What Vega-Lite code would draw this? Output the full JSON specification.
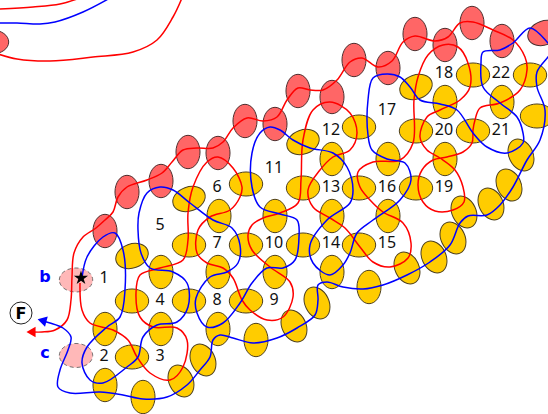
{"$schema":"https://vega.github.io/schema/vega-lite/v6.json","width":548,"height":414,"padding":0,"autosize":"none","background":"white","config":{"view":{"stroke":null}},
"datasets":{
"cells":[
{"x":105,"y":231,"g":"red","a":90},{"x":127,"y":192,"g":"red","a":90},{"x":161,"y":181,"g":"red","a":90},{"x":188,"y":152,"g":"red","a":90},{"x":218,"y":153,"g":"red","a":90},{"x":245,"y":121,"g":"red","a":90},{"x":275,"y":124,"g":"red","a":90},{"x":298,"y":91,"g":"red","a":90},{"x":332,"y":97,"g":"red","a":90},{"x":354,"y":60,"g":"red","a":90},{"x":388,"y":68,"g":"red","a":90},{"x":415,"y":34,"g":"red","a":90},{"x":445,"y":45,"g":"red","a":90},{"x":472,"y":23,"g":"red","a":90},{"x":502,"y":41,"g":"red","a":90},{"x":544,"y":33,"g":"red","a":-20},{"x":-8,"y":42,"g":"red","a":0},
{"x":132,"y":301,"g":"o","a":0},{"x":132,"y":357,"g":"o","a":0},{"x":189,"y":245,"g":"o","a":0},{"x":189,"y":301,"g":"o","a":0},{"x":246,"y":245,"g":"o","a":0},{"x":246,"y":301,"g":"o","a":0},{"x":303,"y":245,"g":"o","a":0},{"x":359,"y":245,"g":"o","a":0},{"x":246,"y":184,"g":"o","a":0},{"x":303,"y":188,"g":"o","a":0},{"x":359,"y":188,"g":"o","a":0},{"x":416,"y":188,"g":"o","a":0},{"x":359,"y":127,"g":"o","a":0},{"x":416,"y":131,"g":"o","a":0},{"x":473,"y":131,"g":"o","a":0},{"x":473,"y":75,"g":"o","a":0},{"x":530,"y":75,"g":"o","a":0},{"x":537,"y":116,"g":"o","a":0},
{"x":105,"y":329,"g":"o","a":90},{"x":105,"y":385,"g":"o","a":90},{"x":143,"y":397,"g":"o","a":90},{"x":161,"y":272,"g":"o","a":90},{"x":161,"y":329,"g":"o","a":90},{"x":219,"y":216,"g":"o","a":90},{"x":218,"y":272,"g":"o","a":90},{"x":218,"y":329,"g":"o","a":90},{"x":256,"y":340,"g":"o","a":90},{"x":275,"y":216,"g":"o","a":90},{"x":275,"y":272,"g":"o","a":90},{"x":332,"y":159,"g":"o","a":90},{"x":332,"y":216,"g":"o","a":90},{"x":332,"y":272,"g":"o","a":90},{"x":388,"y":159,"g":"o","a":90},{"x":388,"y":216,"g":"o","a":90},{"x":369,"y":287,"g":"o","a":90},{"x":445,"y":102,"g":"o","a":90},{"x":445,"y":159,"g":"o","a":90},{"x":502,"y":102,"g":"o","a":90},
{"x":181,"y":381,"g":"o","a":65},{"x":203,"y":360,"g":"o","a":65},{"x":294,"y":326,"g":"o","a":65},{"x":317,"y":303,"g":"o","a":65},{"x":407,"y":268,"g":"o","a":65},{"x":434,"y":257,"g":"o","a":65},{"x":453,"y":238,"g":"o","a":65},{"x":464,"y":212,"g":"o","a":65},{"x":491,"y":204,"g":"o","a":65},{"x":509,"y":185,"g":"o","a":65},{"x":521,"y":155,"g":"o","a":65},
{"x":132,"y":256,"g":"o","a":-20},{"x":189,"y":199,"g":"o","a":-20},{"x":303,"y":142,"g":"o","a":-20},{"x":416,"y":87,"g":"o","a":-20}],
"pale":[{"x":76,"y":280},{"x":76,"y":355.5}],
"paths":[
{"s":"r3","x":0,"y":9},{"s":"r3","x":33,"y":7},{"s":"r3","x":60,"y":4},{"s":"r3","x":80,"y":-2},
{"s":"b2","x":-2,"y":23},{"s":"b2","x":17,"y":23},{"s":"b2","x":40,"y":24},{"s":"b2","x":55,"y":22},{"s":"b2","x":83,"y":12},{"s":"b2","x":110,"y":-2},
{"s":"r2","x":-2,"y":54},{"s":"r2","x":17,"y":59},{"s":"r2","x":50,"y":61},{"s":"r2","x":93,"y":57},{"s":"r2","x":133,"y":52},{"s":"r2","x":157,"y":40},{"s":"r2","x":173,"y":17},{"s":"r2","x":182,"y":-2},
{"s":"r1","x":33,"y":332},{"s":"r1","x":42,"y":332},{"s":"r1","x":55,"y":330},{"s":"r1","x":67,"y":320},{"s":"r1","x":71,"y":300},{"s":"r1","x":72,"y":277},{"s":"r1","x":74,"y":253},{"s":"r1","x":83,"y":237},{"s":"r1","x":96,"y":228},{"s":"r1","x":105,"y":220},{"s":"r1","x":113,"y":212},{"s":"r1","x":118,"y":197},{"s":"r1","x":127,"y":187},{"s":"r1","x":147,"y":180},{"s":"r1","x":162,"y":173},{"s":"r1","x":172,"y":162},{"s":"r1","x":183,"y":150},{"s":"r1","x":197,"y":148},{"s":"r1","x":213,"y":148},{"s":"r1","x":223,"y":142},{"s":"r1","x":233,"y":128},{"s":"r1","x":247,"y":118},{"s":"r1","x":263,"y":121},{"s":"r1","x":277,"y":117},{"s":"r1","x":287,"y":100},{"s":"r1","x":298,"y":88},{"s":"r1","x":310,"y":90},{"s":"r1","x":323,"y":90},{"s":"r1","x":337,"y":80},{"s":"r1","x":350,"y":62},{"s":"r1","x":362,"y":58},{"s":"r1","x":378,"y":67},{"s":"r1","x":392,"y":61},{"s":"r1","x":403,"y":42},{"s":"r1","x":415,"y":36},{"s":"r1","x":435,"y":41},{"s":"r1","x":448,"y":37},{"s":"r1","x":460,"y":23},{"s":"r1","x":473,"y":22},{"s":"r1","x":493,"y":30},{"s":"r1","x":513,"y":40},{"s":"r1","x":525,"y":57},{"s":"r1","x":527,"y":70},{"s":"r1","x":520,"y":90},{"s":"r1","x":500,"y":103},{"s":"r1","x":480,"y":108},{"s":"r1","x":475,"y":120},{"s":"r1","x":473,"y":130},{"s":"r1","x":472,"y":143},{"s":"r1","x":463,"y":152},{"s":"r1","x":447,"y":157},{"s":"r1","x":433,"y":160},{"s":"r1","x":422,"y":170},{"s":"r1","x":418,"y":185},{"s":"r1","x":423,"y":202},{"s":"r1","x":435,"y":211},{"s":"r1","x":453,"y":210},{"s":"r1","x":464,"y":202},{"s":"r1","x":463,"y":187},{"s":"r1","x":455,"y":170},{"s":"r1","x":440,"y":158},{"s":"r1","x":427,"y":150},{"s":"r1","x":420,"y":137},{"s":"r1","x":427,"y":117},{"s":"r1","x":440,"y":110},{"s":"r1","x":460,"y":100},{"s":"r1","x":470,"y":87},{"s":"r1","x":468,"y":63},{"s":"r1","x":458,"y":47},{"s":"r1","x":443,"y":45},{"s":"r1","x":428,"y":55},{"s":"r1","x":418,"y":77},{"s":"r1","x":414,"y":100},{"s":"r1","x":413,"y":143},{"s":"r1","x":400,"y":160},{"s":"r1","x":373,"y":162},{"s":"r1","x":358,"y":172},{"s":"r1","x":360,"y":187},{"s":"r1","x":370,"y":200},{"s":"r1","x":383,"y":212},{"s":"r1","x":403,"y":223},{"s":"r1","x":411,"y":243},{"s":"r1","x":408,"y":258},{"s":"r1","x":390,"y":267},{"s":"r1","x":373,"y":262},{"s":"r1","x":360,"y":247},{"s":"r1","x":345,"y":228},{"s":"r1","x":330,"y":218},{"s":"r1","x":313,"y":207},{"s":"r1","x":308,"y":190},{"s":"r1","x":320,"y":170},{"s":"r1","x":333,"y":157},{"s":"r1","x":350,"y":150},{"s":"r1","x":357,"y":133},{"s":"r1","x":350,"y":113},{"s":"r1","x":330,"y":102},{"s":"r1","x":313,"y":110},{"s":"r1","x":303,"y":140},{"s":"r1","x":301,"y":180},{"s":"r1","x":298,"y":203},{"s":"r1","x":280,"y":213},{"s":"r1","x":263,"y":218},{"s":"r1","x":252,"y":225},{"s":"r1","x":248,"y":235},{"s":"r1","x":252,"y":250},{"s":"r1","x":270,"y":267},{"s":"r1","x":290,"y":282},{"s":"r1","x":293,"y":297},{"s":"r1","x":283,"y":317},{"s":"r1","x":267,"y":320},{"s":"r1","x":250,"y":310},{"s":"r1","x":242,"y":300},{"s":"r1","x":233,"y":278},{"s":"r1","x":223,"y":268},{"s":"r1","x":207,"y":263},{"s":"r1","x":197,"y":253},{"s":"r1","x":198,"y":230},{"s":"r1","x":210,"y":217},{"s":"r1","x":230,"y":210},{"s":"r1","x":240,"y":197},{"s":"r1","x":242,"y":187},{"s":"r1","x":233,"y":168},{"s":"r1","x":218,"y":157},{"s":"r1","x":207,"y":162},{"s":"r1","x":193,"y":187},{"s":"r1","x":188,"y":213},{"s":"r1","x":188,"y":240},{"s":"r1","x":183,"y":260},{"s":"r1","x":160,"y":268},{"s":"r1","x":140,"y":275},{"s":"r1","x":136,"y":293},{"s":"r1","x":140,"y":317},{"s":"r1","x":153,"y":327},{"s":"r1","x":177,"y":328},{"s":"r1","x":187,"y":340},{"s":"r1","x":183,"y":367},{"s":"r1","x":170,"y":380},{"s":"r1","x":150,"y":373},{"s":"r1","x":137,"y":357},{"s":"r1","x":128,"y":340},{"s":"r1","x":113,"y":330},{"s":"r1","x":90,"y":323},{"s":"r1","x":82,"y":310},{"s":"r1","x":80,"y":283},
{"s":"b1","x":42,"y":321},{"s":"b1","x":50,"y":323},{"s":"b1","x":63,"y":328},{"s":"b1","x":71,"y":337},{"s":"b1","x":68,"y":350},{"s":"b1","x":60,"y":370},{"s":"b1","x":58,"y":387},{"s":"b1","x":70,"y":393},{"s":"b1","x":100,"y":392},{"s":"b1","x":123,"y":395},{"s":"b1","x":143,"y":399},{"s":"b1","x":167,"y":397},{"s":"b1","x":187,"y":385},{"s":"b1","x":200,"y":370},{"s":"b1","x":210,"y":357},{"s":"b1","x":213,"y":340},{"s":"b1","x":220,"y":335},{"s":"b1","x":233,"y":338},{"s":"b1","x":253,"y":343},{"s":"b1","x":277,"y":338},{"s":"b1","x":297,"y":328},{"s":"b1","x":315,"y":315},{"s":"b1","x":318,"y":300},{"s":"b1","x":318,"y":285},{"s":"b1","x":327,"y":282},{"s":"b1","x":343,"y":287},{"s":"b1","x":363,"y":289},{"s":"b1","x":383,"y":285},{"s":"b1","x":407,"y":275},{"s":"b1","x":430,"y":262},{"s":"b1","x":450,"y":245},{"s":"b1","x":460,"y":223},{"s":"b1","x":468,"y":216},{"s":"b1","x":487,"y":215},{"s":"b1","x":500,"y":205},{"s":"b1","x":513,"y":187},{"s":"b1","x":527,"y":160},{"s":"b1","x":540,"y":140},{"s":"b1","x":545,"y":110},{"s":"b1","x":537,"y":87},{"s":"b1","x":537,"y":72},{"s":"b1","x":548,"y":57},{"s":"b1","x":553,"y":50},{"s":"b1","x":548,"y":43},{"s":"b1","x":530,"y":28},{"s":"b1","x":513,"y":43},{"s":"b1","x":500,"y":50},{"s":"b1","x":483,"y":52},{"s":"b1","x":481,"y":63},{"s":"b1","x":483,"y":87},{"s":"b1","x":500,"y":103},{"s":"b1","x":517,"y":117},{"s":"b1","x":523,"y":133},{"s":"b1","x":523,"y":143},{"s":"b1","x":507,"y":153},{"s":"b1","x":487,"y":147},{"s":"b1","x":473,"y":133},{"s":"b1","x":457,"y":110},{"s":"b1","x":440,"y":104},{"s":"b1","x":420,"y":100},{"s":"b1","x":410,"y":87},{"s":"b1","x":400,"y":77},{"s":"b1","x":387,"y":74},{"s":"b1","x":373,"y":78},{"s":"b1","x":368,"y":100},{"s":"b1","x":368,"y":135},{"s":"b1","x":372,"y":150},{"s":"b1","x":387,"y":159},{"s":"b1","x":405,"y":163},{"s":"b1","x":411,"y":180},{"s":"b1","x":400,"y":200},{"s":"b1","x":373,"y":220},{"s":"b1","x":357,"y":233},{"s":"b1","x":350,"y":253},{"s":"b1","x":343,"y":265},{"s":"b1","x":330,"y":275},{"s":"b1","x":313,"y":263},{"s":"b1","x":310,"y":245},{"s":"b1","x":327,"y":220},{"s":"b1","x":350,"y":203},{"s":"b1","x":353,"y":190},{"s":"b1","x":347,"y":167},{"s":"b1","x":333,"y":153},{"s":"b1","x":310,"y":148},{"s":"b1","x":293,"y":140},{"s":"b1","x":280,"y":130},{"s":"b1","x":270,"y":127},{"s":"b1","x":260,"y":133},{"s":"b1","x":252,"y":153},{"s":"b1","x":252,"y":187},{"s":"b1","x":260,"y":207},{"s":"b1","x":280,"y":214},{"s":"b1","x":297,"y":220},{"s":"b1","x":299,"y":237},{"s":"b1","x":295,"y":260},{"s":"b1","x":283,"y":268},{"s":"b1","x":267,"y":268},{"s":"b1","x":252,"y":283},{"s":"b1","x":240,"y":303},{"s":"b1","x":223,"y":323},{"s":"b1","x":207,"y":327},{"s":"b1","x":197,"y":313},{"s":"b1","x":196,"y":298},{"s":"b1","x":210,"y":277},{"s":"b1","x":227,"y":272},{"s":"b1","x":238,"y":263},{"s":"b1","x":240,"y":245},{"s":"b1","x":232,"y":228},{"s":"b1","x":213,"y":220},{"s":"b1","x":190,"y":203},{"s":"b1","x":173,"y":190},{"s":"b1","x":160,"y":187},{"s":"b1","x":147,"y":193},{"s":"b1","x":139,"y":213},{"s":"b1","x":138,"y":230},{"s":"b1","x":141,"y":253},{"s":"b1","x":150,"y":268},{"s":"b1","x":173,"y":272},{"s":"b1","x":187,"y":283},{"s":"b1","x":188,"y":307},{"s":"b1","x":177,"y":322},{"s":"b1","x":157,"y":325},{"s":"b1","x":143,"y":337},{"s":"b1","x":138,"y":357},{"s":"b1","x":127,"y":367},{"s":"b1","x":103,"y":383},{"s":"b1","x":90,"y":380},{"s":"b1","x":82,"y":363},{"s":"b1","x":87,"y":347},{"s":"b1","x":107,"y":327},{"s":"b1","x":120,"y":317},{"s":"b1","x":125,"y":290},{"s":"b1","x":123,"y":250},{"s":"b1","x":115,"y":233},{"s":"b1","x":103,"y":237},{"s":"b1","x":87,"y":257},{"s":"b1","x":82,"y":278}],
"nums":[{"x":104,"y":278,"t":"1"},{"x":104,"y":356,"t":"2"},{"x":160,"y":356,"t":"3"},{"x":160,"y":300,"t":"4"},{"x":160,"y":225,"t":"5"},{"x":217,"y":187,"t":"6"},{"x":217,"y":243,"t":"7"},{"x":217,"y":300,"t":"8"},{"x":274,"y":300,"t":"9"},{"x":274,"y":243,"t":"10"},{"x":274,"y":168,"t":"11"},{"x":331,"y":130,"t":"12"},{"x":331,"y":187,"t":"13"},{"x":331,"y":243,"t":"14"},{"x":387,"y":243,"t":"15"},{"x":387,"y":187,"t":"16"},{"x":387,"y":110,"t":"17"},{"x":444,"y":73,"t":"18"},{"x":444,"y":187,"t":"19"},{"x":444,"y":130,"t":"20"},{"x":501,"y":130,"t":"21"},{"x":501,"y":73,"t":"22"}]
},
"encoding":{"x":{"field":"x","type":"quantitative","axis":null,"scale":{"domain":[0,548],"nice":false,"zero":false}},"y":{"field":"y","type":"quantitative","axis":null,"scale":{"domain":[414,0],"nice":false,"zero":false}}},
"layer":[
{"data":{"name":"cells"},"transform":[{"filter":"datum.g==='red'"}],"mark":{"type":"point","filled":true,"clip":true,"shape":"M-1,0A1,0.72 0 1,1 1,0A1,0.72 0 1,1 -1,0Z","size":1115,"fill":"#ff6666","stroke":"#4d3030","strokeWidth":1,"opacity":1},
"encoding":{"angle":{"field":"a","type":"quantitative","scale":null}}},
{"data":{"name":"cells"},"transform":[{"filter":"datum.g==='o'"}],"mark":{"type":"point","filled":true,"clip":true,"shape":"M-1,0A1,0.72 0 1,1 1,0A1,0.72 0 1,1 -1,0Z","size":1115,"fill":"#ffcc00","stroke":"#4d4020","strokeWidth":1,"opacity":1},
"encoding":{"angle":{"field":"a","type":"quantitative","scale":null}}},
{"data":{"name":"pale"},"mark":{"type":"point","filled":true,"shape":"M-1,0A1,0.72 0 1,1 1,0A1,0.72 0 1,1 -1,0Z","size":1115,"fill":"#ffb8b8","stroke":"#555555","strokeWidth":0.8,"strokeDash":[4,3],"opacity":1}},
{"data":{"name":"paths"},"transform":[{"window":[{"op":"row_number","as":"i"}]},{"filter":"datum.s[0]==='r'"}],"mark":{"type":"line","interpolate":"catmull-rom","strokeWidth":1.5,"clip":true,"stroke":"#ff0000"},
"encoding":{"detail":{"field":"s"},"order":{"field":"i","type":"quantitative"}}},
{"data":{"name":"paths"},"transform":[{"window":[{"op":"row_number","as":"i"}]},{"filter":"datum.s[0]==='b'"}],"mark":{"type":"line","interpolate":"catmull-rom","strokeWidth":1.5,"clip":true,"stroke":"#0000ff"},
"encoding":{"detail":{"field":"s"},"order":{"field":"i","type":"quantitative"}}},
{"data":{"values":[{"x":31,"y":332}]},"mark":{"type":"point","shape":"triangle-left","filled":true,"size":110,"color":"#ff0000","opacity":1}},
{"data":{"values":[{"x":42,"y":320.5}]},"mark":{"type":"point","shape":"triangle-left","filled":true,"size":110,"angle":15,"color":"#0000ff","opacity":1}},
{"data":{"values":[{"x":81,"y":278}]},"mark":{"type":"point","shape":"M0,-1L0.225,-0.309L0.951,-0.309L0.363,0.118L0.588,0.809L0,0.382L-0.588,0.809L-0.363,0.118L-0.951,-0.309L-0.225,-0.309Z","filled":true,"size":220,"color":"#000000","opacity":1}},
{"data":{"values":[{"x":21,"y":313}]},"mark":{"type":"point","shape":"circle","filled":true,"size":484,"fill":"white","stroke":"#222222","strokeWidth":1,"opacity":1}},
{"data":{"values":[{"x":21,"y":313.5,"t":"F"}]},"mark":{"type":"text","font":"DejaVu Sans","fontSize":16,"fontWeight":"bold","color":"#000000","align":"center","baseline":"middle"},"encoding":{"text":{"field":"t"}}},
{"data":{"values":[{"x":45,"y":277,"t":"b"},{"x":45,"y":353,"t":"c"}]},"mark":{"type":"text","font":"DejaVu Sans","fontSize":16,"fontWeight":"bold","color":"#0000ff","align":"center","baseline":"middle"},"encoding":{"text":{"field":"t"}}},
{"data":{"name":"nums"},"mark":{"type":"text","font":"Noto Sans","fontSize":16,"color":"#111111","align":"center","baseline":"middle"},"encoding":{"text":{"field":"t"}}}
]}
